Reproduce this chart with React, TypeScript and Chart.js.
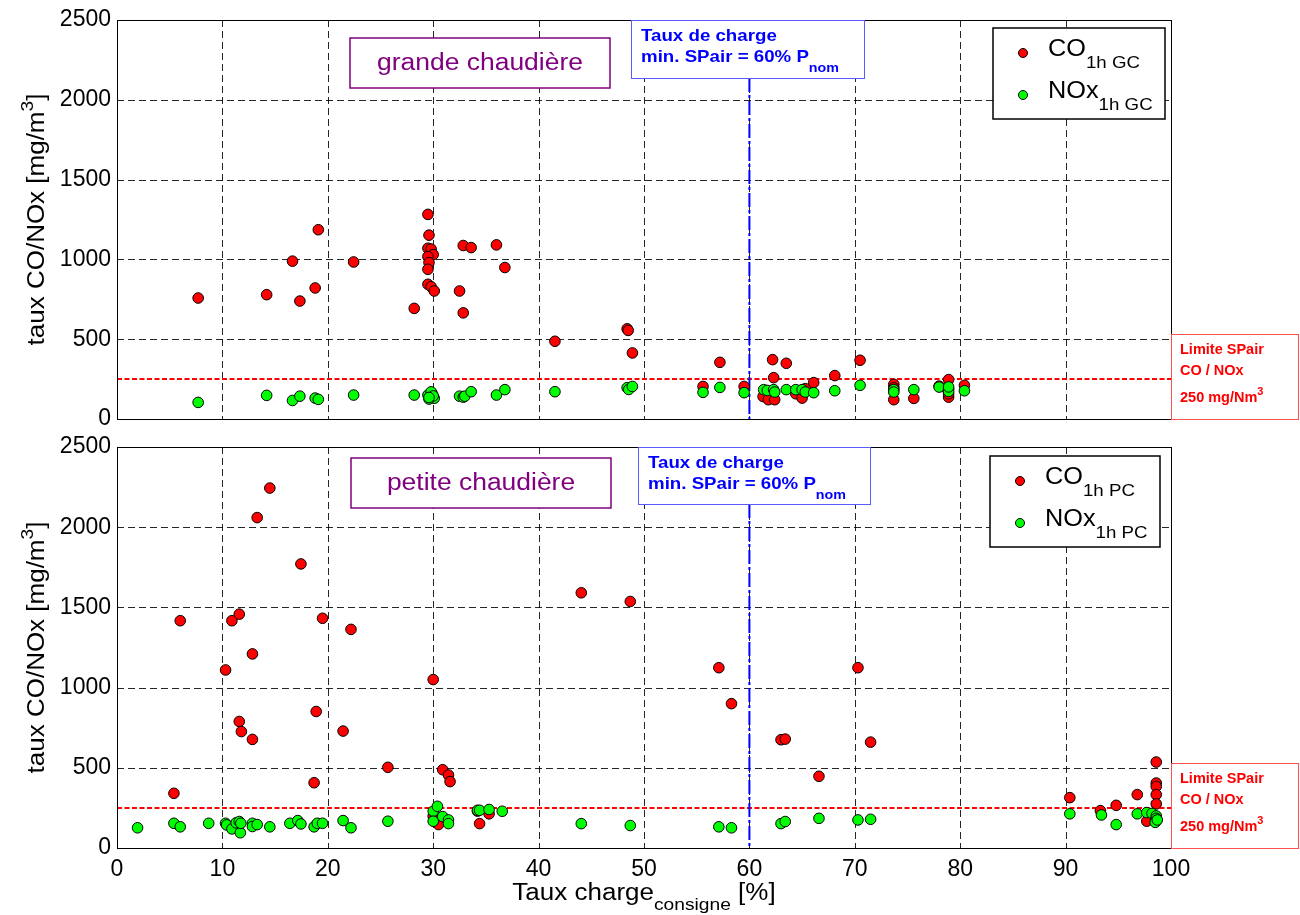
import React, { useEffect, useRef } from "react";
import { Chart, registerables } from "chart.js";

Chart.register(...registerables);

// ---------- data ----------
const X_TICKS = [0, 10, 20, 30, 40, 50, 60, 70, 80, 90, 100];
const Y_TICKS = [0, 500, 1000, 1500, 2000, 2500];
const LIMIT_VALUE = 250;
const MIN_LOAD = 60;

// grande chaudière (GC)
const gcCoX = [7.7, 14.2, 16.65, 17.35, 18.8, 19.1, 22.45, 28.2, 29.5, 29.6, 29.5, 29.8, 30.0, 29.5, 29.6, 29.5, 29.5, 29.8, 30.1, 32.5, 32.85, 32.85, 33.6, 36.0, 36.8, 41.55, 48.4, 48.5, 48.9, 55.6, 57.2, 59.5, 62.2, 63.5, 62.3, 61.3, 61.8, 62.4, 64.4, 65.0, 65.3, 66.1, 68.1, 70.5, 73.7, 73.7, 73.7, 75.6, 78.0, 78.9, 78.9, 78.9, 78.8, 80.4];
const gcCoY = [758, 779, 989, 739, 821, 1186, 984, 693, 1282, 1152, 1070, 1065, 1030, 1018, 980, 938, 844, 829, 802, 802, 665, 1087, 1074, 1091, 949, 487, 565, 555, 414, 204, 355, 204, 372, 349, 259, 141, 121, 121, 158, 131, 190, 228, 272, 368, 217, 195, 121, 129, 206, 247, 137, 158, 185, 211];
const gcNoxX = [7.7, 14.2, 16.65, 17.35, 18.8, 19.1, 22.45, 28.2, 29.5, 29.7, 29.9, 30.1, 29.6, 29.8, 30.0, 29.6, 32.5, 32.85, 33.0, 33.6, 36.0, 36.8, 41.55, 48.4, 48.55, 48.9, 55.6, 57.2, 59.5, 61.35, 61.7, 62.3, 62.4, 63.5, 64.4, 65.0, 65.3, 66.1, 68.1, 70.5, 73.7, 73.7, 75.6, 78.0, 78.9, 78.9, 78.9, 80.4];
const gcNoxY = [104, 148, 116, 143, 131, 123, 150, 150, 150, 140, 160, 130, 125, 170, 145, 135, 143, 137, 143, 171, 150, 184, 171, 196, 185, 204, 167, 198, 165, 184, 179, 184, 169, 184, 184, 184, 169, 165, 177, 211, 184, 169, 184, 200, 188, 173, 201, 177];

// petite chaudière (PC)
const pcCoX = [14.5, 13.3, 17.45, 6.0, 10.9, 11.6, 19.5, 22.2, 12.85, 10.3, 18.9, 11.6, 11.8, 12.85, 21.45, 25.7, 18.7, 5.4, 44.05, 48.7, 30.0, 57.1, 58.3, 70.3, 63.0, 63.4, 71.5, 66.6, 30.9, 31.45, 31.6, 30.0, 30.5, 34.4, 35.3, 34.2, 90.4, 93.3, 94.8, 96.8, 97.7, 98.6, 98.6, 98.6, 98.6, 98.6, 98.6];
const pcCoY = [2244, 2060, 1771, 1417, 1417, 1458, 1432, 1363, 1210, 1110, 851, 789, 726, 677, 729, 503, 407, 341, 1591, 1537, 1050, 1124, 900, 1124, 675, 679, 660, 447, 488, 455, 414, 198, 146, 152, 213, 230, 314, 233, 266, 333, 167, 536, 405, 384, 333, 275, 180];
const pcNoxX = [1.95, 5.4, 6.0, 8.7, 10.3, 10.4, 10.9, 11.3, 11.6, 11.7, 11.75, 12.85, 12.85, 13.3, 14.5, 16.4, 17.15, 17.45, 18.7, 19.0, 19.5, 21.45, 22.2, 25.7, 30.0, 30.4, 30.9, 30.0, 31.45, 31.45, 34.2, 34.4, 35.3, 36.55, 44.05, 48.7, 57.1, 58.3, 63.0, 63.4, 66.6, 70.3, 71.5, 90.4, 93.4, 94.8, 96.8, 97.7, 98.2, 98.6, 98.6, 98.6, 98.5, 98.7];
const pcNoxY = [126, 154, 132, 154, 154, 144, 119, 157, 165, 95, 154, 154, 134, 146, 132, 154, 171, 150, 132, 154, 154, 171, 126, 167, 229, 260, 196, 167, 175, 152, 235, 235, 240, 229, 152, 140, 132, 126, 152, 165, 185, 175, 179, 213, 206, 146, 213, 221, 216, 200, 185, 170, 160, 175];

// ---------- styling ----------
const FONT = "'Liberation Sans', Arial, Helvetica, sans-serif";
const RED = "#ff0000";
const GREEN = "#00ff00";
const BLUE = "#0000ff";
const PURPLE = "#800080";

type Seg = { t: string; size: number; bold?: boolean; dy?: number };

function drawSegs(
  ctx: CanvasRenderingContext2D,
  segs: Seg[],
  x: number,
  y: number,
  align: "left" | "center" = "left",
  sx = 1
) {
  ctx.save();
  ctx.translate(x, y);
  ctx.scale(sx, 1);
  ctx.textAlign = "left";
  ctx.textBaseline = "alphabetic";
  const widths = segs.map((s) => {
    ctx.font = `${s.bold ? "bold " : ""}${s.size}px ${FONT}`;
    return ctx.measureText(s.t).width;
  });
  const total = widths.reduce((a, b) => a + b, 0);
  let cx = align === "center" ? -total / 2 : 0;
  segs.forEach((s, i) => {
    ctx.font = `${s.bold ? "bold " : ""}${s.size}px ${FONT}`;
    ctx.fillText(s.t, cx, s.dy || 0);
    cx += widths[i];
  });
  ctx.restore();
}

type PanelCfg = {
  key: string;
  top: number;
  height: number;
  padTop: number;
  padBottom: number;
  showX: boolean;
  sub: string;
  label: string;
  coX: number[];
  coY: number[];
  noxX: number[];
  noxY: number[];
  purple: { x0: number; x1: number; top: number; h: number };
  blue: { x0: number; x1: number; h: number };
  legend: { x0: number; x1: number; top: number; h: number };
};

const TOP_PANEL: PanelCfg = {
  key: "gc",
  top: 0,
  height: 445,
  padTop: 20,
  padBottom: 26,
  showX: false,
  sub: "1h GC",
  label: "grande chaudière",
  coX: gcCoX,
  coY: gcCoY,
  noxX: gcNoxX,
  noxY: gcNoxY,
  purple: { x0: 350, x1: 610, top: 18, h: 50 },
  blue: { x0: 631, x1: 864, h: 58 },
  legend: { x0: 993, x1: 1165, top: 8, h: 91 },
};

const BOTTOM_PANEL: PanelCfg = {
  key: "pc",
  top: 420,
  height: 495,
  padTop: 27,
  padBottom: 0,
  showX: true,
  sub: "1h PC",
  label: "petite chaudière",
  coX: pcCoX,
  coY: pcCoY,
  noxX: pcNoxX,
  noxY: pcNoxY,
  purple: { x0: 351, x1: 611, top: 11, h: 50 },
  blue: { x0: 638, x1: 870, h: 57 },
  legend: { x0: 990, x1: 1160, top: 9, h: 91 },
};

function toPoints(xs: number[], ys: number[]) {
  return xs.map((x, i) => ({ x, y: ys[i] }));
}

function makeOverlay(cfg: PanelCfg) {
  return {
    id: "overlay_" + cfg.key,
    beforeDatasetsDraw(chart: any) {
      const { ctx, chartArea: a, scales } = chart;
      const xs = scales.x;
      const ys = scales.y;
      ctx.save();
      // grid
      ctx.strokeStyle = "rgba(0,0,0,0.85)";
      ctx.lineWidth = 1;
      ctx.setLineDash([7, 4]);
      X_TICKS.forEach((v) => {
        const px = Math.round(xs.getPixelForValue(v)) + 0.5;
        ctx.beginPath();
        ctx.moveTo(px, a.top);
        ctx.lineTo(px, a.bottom);
        ctx.stroke();
      });
      Y_TICKS.forEach((v) => {
        const py = Math.round(ys.getPixelForValue(v)) + 0.5;
        ctx.beginPath();
        ctx.moveTo(a.left, py);
        ctx.lineTo(a.right, py);
        ctx.stroke();
      });
      // limit line
      ctx.strokeStyle = RED;
      ctx.lineWidth = 2;
      ctx.setLineDash([5, 2.5]);
      const ly = ys.getPixelForValue(LIMIT_VALUE);
      ctx.beginPath();
      ctx.moveTo(a.left, ly);
      ctx.lineTo(a.right, ly);
      ctx.stroke();
      // min load vertical
      ctx.strokeStyle = BLUE;
      ctx.lineWidth = 2;
      ctx.setLineDash([14, 3, 3, 3]);
      const vx = xs.getPixelForValue(MIN_LOAD);
      ctx.beginPath();
      ctx.moveTo(vx, a.top + cfg.blue.h);
      ctx.lineTo(vx, a.bottom);
      ctx.stroke();
      ctx.restore();
    },
    afterDraw(chart: any) {
      const { ctx, chartArea: a } = chart;
      ctx.save();
      ctx.setLineDash([]);
      // axes box
      ctx.strokeStyle = "#000";
      ctx.lineWidth = 1;
      ctx.strokeRect(a.left + 0.5, a.top + 0.5, a.right - a.left, a.bottom - a.top);

      // purple label box
      const p = cfg.purple;
      ctx.fillStyle = "#fff";
      ctx.fillRect(p.x0, a.top + p.top, p.x1 - p.x0, p.h);
      ctx.strokeStyle = PURPLE;
      ctx.lineWidth = 1.5;
      ctx.strokeRect(p.x0, a.top + p.top, p.x1 - p.x0, p.h);
      ctx.fillStyle = PURPLE;
      drawSegs(ctx, [{ t: cfg.label, size: 23 }], (p.x0 + p.x1) / 2, a.top + p.top + p.h / 2 + 7, "center", 1.15);

      // blue annotation box
      const b = cfg.blue;
      ctx.fillStyle = "#fff";
      ctx.fillRect(b.x0, a.top, b.x1 - b.x0, b.h);
      ctx.strokeStyle = "#5a5aff";
      ctx.lineWidth = 1;
      ctx.strokeRect(b.x0 + 0.5, a.top + 0.5, b.x1 - b.x0, b.h);
      ctx.fillStyle = BLUE;
      drawSegs(ctx, [{ t: "Taux de charge", size: 17, bold: true }], b.x0 + 10, a.top + 21, "left", 1.1);
      drawSegs(
        ctx,
        [
          { t: "min. SPair = 60% P", size: 17, bold: true },
          { t: "nom", size: 13, bold: true, dy: 10 },
        ],
        b.x0 + 10,
        a.top + 42,
        "left",
        1.1
      );

      // legend
      const l = cfg.legend;
      ctx.fillStyle = "#fff";
      ctx.fillRect(l.x0, a.top + l.top, l.x1 - l.x0, l.h);
      ctx.strokeStyle = "#000";
      ctx.lineWidth = 1.5;
      ctx.strokeRect(l.x0, a.top + l.top, l.x1 - l.x0, l.h);
      const rows = [
        { main: "CO", color: RED, dy: 25 },
        { main: "NOx", color: GREEN, dy: 67 },
      ];
      rows.forEach((r) => {
        const my = a.top + l.top + r.dy;
        ctx.beginPath();
        ctx.arc(l.x0 + 30, my, 4.5, 0, Math.PI * 2);
        ctx.fillStyle = r.color;
        ctx.fill();
        ctx.strokeStyle = "#000";
        ctx.lineWidth = 1;
        ctx.stroke();
        ctx.fillStyle = "#000";
        drawSegs(
          ctx,
          [
            { t: r.main, size: 23 },
            { t: cfg.sub, size: 17, dy: 12 },
          ],
          l.x0 + 55,
          my + 3,
          "left",
          1.1
        );
      });

      // limit box (right margin)
      const bx = a.right;
      const bTop = a.bottom - 85;
      ctx.fillStyle = "#fff";
      ctx.fillRect(bx, bTop, 1299 - bx, 85);
      ctx.strokeStyle = "#ff5050";
      ctx.lineWidth = 1;
      ctx.strokeRect(bx + 0.5, bTop + 0.5, 1299 - bx - 1, 85);
      ctx.fillStyle = RED;
      drawSegs(ctx, [{ t: "Limite SPair", size: 14.5, bold: true }], bx + 9, bTop + 20);
      drawSegs(ctx, [{ t: "CO / NOx", size: 14.5, bold: true }], bx + 9, bTop + 41);
      drawSegs(
        ctx,
        [
          { t: "250 mg/Nm", size: 14.5, bold: true },
          { t: "3", size: 11, bold: true, dy: -7 },
        ],
        bx + 9,
        bTop + 68
      );

      // y axis title
      ctx.fillStyle = "#000";
      ctx.save();
      ctx.translate(44, (a.top + a.bottom) / 2);
      ctx.rotate(-Math.PI / 2);
      drawSegs(
        ctx,
        [
          { t: "taux CO/NOx [mg/m", size: 23 },
          { t: "3", size: 17, dy: -11 },
          { t: "]", size: 23 },
        ],
        0,
        0,
        "center",
        1.13
      );
      ctx.restore();

      // x axis title
      if (cfg.showX) {
        drawSegs(
          ctx,
          [
            { t: "Taux charge", size: 23 },
            { t: "consigne", size: 17, dy: 10 },
            { t: " [%]", size: 23 },
          ],
          (a.left + a.right) / 2,
          a.bottom + 52,
          "center",
          1.13
        );
      }
      ctx.restore();
    },
  };
}

function buildConfig(cfg: PanelCfg): any {
  return {
    type: "scatter",
    data: {
      datasets: [
        {
          label: "CO",
          data: toPoints(cfg.coX, cfg.coY),
          backgroundColor: RED,
          borderColor: "#000",
          borderWidth: 1,
          pointRadius: 5.3,
          order: 1,
        },
        {
          label: "NOx",
          data: toPoints(cfg.noxX, cfg.noxY),
          backgroundColor: GREEN,
          borderColor: "#000",
          borderWidth: 1,
          pointRadius: 5.3,
          order: 0,
        },
      ],
    },
    options: {
      responsive: false,
      animation: false,
      events: [],
      layout: { padding: { left: 0, right: 129, top: cfg.padTop, bottom: cfg.padBottom } },
      plugins: { legend: { display: false }, tooltip: { enabled: false } },
      scales: {
        x: {
          type: "linear",
          min: 0,
          max: 100,
          display: cfg.showX,
          ticks: {
            stepSize: 10,
            color: "#000",
            font: { family: FONT, size: 23 },
            padding: 8,
            maxRotation: 0,
            callback: (v: any) => String(v),
          },
          grid: { display: false, drawTicks: false },
          border: { display: false },
          afterFit: (s: any) => {
            s.height = cfg.showX ? 67 : 0;
          },
        },
        y: {
          type: "linear",
          min: 0,
          max: 2500,
          ticks: {
            stepSize: 500,
            color: "#000",
            font: { family: FONT, size: 23 },
            padding: 6,
            callback: (v: any) => String(v),
          },
          grid: { display: false, drawTicks: false },
          border: { display: false },
          afterFit: (s: any) => {
            s.width = 117;
          },
        },
      },
    },
    plugins: [makeOverlay(cfg)],
  };
}

function Panel({ cfg }: { cfg: PanelCfg }) {
  const ref = useRef<HTMLCanvasElement>(null);
  useEffect(() => {
    const chart = new Chart(ref.current as HTMLCanvasElement, buildConfig(cfg));
    return () => chart.destroy();
  }, [cfg]);
  return (
    <canvas
      ref={ref}
      width={1300}
      height={cfg.height}
      style={{ position: "absolute", left: 0, top: cfg.top, display: "block", width: 1300, height: cfg.height }}
    />
  );
}

export default function App() {
  return (
    <div style={{ position: "absolute", left: 0, top: 0, width: 1300, height: 915, background: "#fff", overflow: "hidden" }}>
      <Panel cfg={TOP_PANEL} />
      <Panel cfg={BOTTOM_PANEL} />
    </div>
  );
}
